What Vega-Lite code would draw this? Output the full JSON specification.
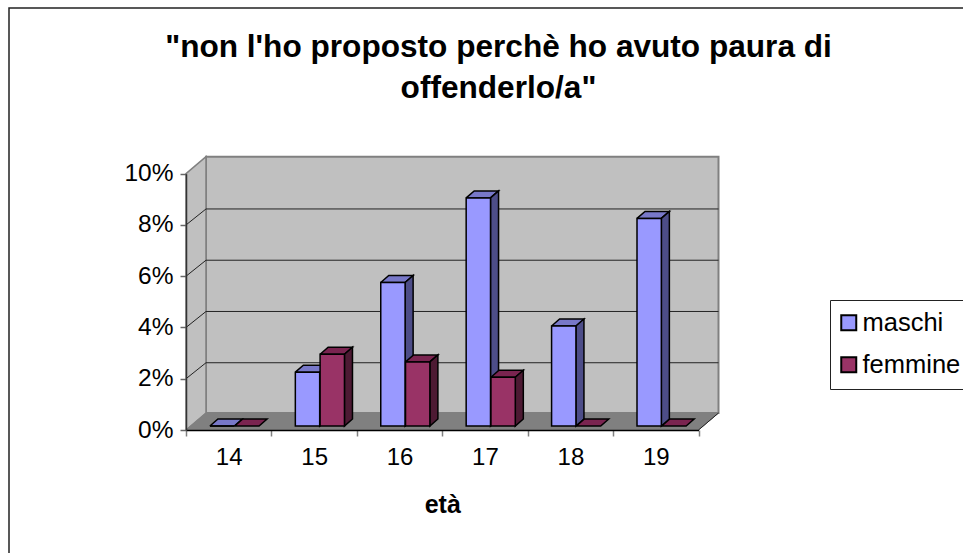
{
"$schema":"https://vega.github.io/schema/vega-lite/v6.json",
"width":955,"height":546,
"autosize":"none",
"padding":{"left":9,"top":8,"right":0,"bottom":0},
"background":"white",
"config":{"font":"Liberation Sans","view":{"stroke":"#222222","strokeWidth":1.5,"fill":"white"}},
"title":{"text":["\"non l'ho proposto perchè ho avuto paura di","offenderlo/a\""],"anchor":"middle","dx":12,"offset":-97,"fontSize":31.6,"fontWeight":"bold","lineHeight":41,"color":"black"},
"datasets":{
"valori":[
{"eta":14,"sesso":"maschi","valore":0},{"eta":14,"sesso":"femmine","valore":0},
{"eta":15,"sesso":"maschi","valore":2.1},{"eta":15,"sesso":"femmine","valore":2.8},
{"eta":16,"sesso":"maschi","valore":5.6},{"eta":16,"sesso":"femmine","valore":2.5},
{"eta":17,"sesso":"maschi","valore":8.9},{"eta":17,"sesso":"femmine","valore":1.9},
{"eta":18,"sesso":"maschi","valore":3.9},{"eta":18,"sesso":"femmine","valore":0},
{"eta":19,"sesso":"maschi","valore":8.1},{"eta":19,"sesso":"femmine","valore":0}],
"griglia":[{"v":0},{"v":2},{"v":4},{"v":6},{"v":8},{"v":10}]
},
"data":{"name":"valori"},
"transform":[
{"calculate":"datum.eta+(datum.sesso=='maschi'?-0.22:0.07)","as":"xl"},
{"calculate":"datum.xl+0.285","as":"xr"},
{"calculate":"0.156","as":"yb"},
{"calculate":"datum.valore+0.156","as":"yt"}
],
"layer":[
{"data":{"values":[{}]},"transform":[],"mark":{"type":"rect","fill":"#c0c0c0","stroke":"#808080","strokeWidth":2,"xOffset":20,"x2Offset":20,"yOffset":-17,"y2Offset":-17},
 "encoding":{"x":{"datum":13.5,"type":"quantitative","scale":{"domain":[13.5,19.5],"range":[177,689.5],"nice":false,"zero":false},
   "axis":{"values":[13.5,14,14.5,15,15.5,16,16.5,17,17.5,18,18.5,19,19.5],"offset":-124,"zindex":2,"grid":false,"domainColor":"black","domainWidth":1.5,"tickColor":"#808080","tickWidth":1.5,"tickSize":6,"tickOpacity":{"condition":{"test":"datum.value%1==0.5","value":1},"value":0},"labelExpr":"datum.value%1==0?format(datum.value,'d'):''","labelFontSize":24,"labelColor":"black","labelPadding":9,"labelOverlap":false,"labelFlush":false,"title":"età","titleFontSize":25,"titleFontWeight":"bold","titleColor":"black","titlePadding":23}},"x2":{"datum":19.5},
 "y":{"datum":0,"type":"quantitative","scale":{"domain":[0,10],"range":[422,165.7],"nice":false,"zero":false},
   "axis":{"values":[0,2,4,6,8,10],"offset":-177,"zindex":2,"grid":false,"domainColor":"#333333","domainWidth":1.5,"tickColor":"#666666","tickWidth":1.5,"tickSize":6,"labelExpr":"datum.value+'%'","labelFontSize":24.5,"labelColor":"black","labelPadding":7,"title":null}},"y2":{"datum":10}}},
{"data":{"values":[{"i":0,"x":13.5,"y":0,"d":0},{"i":1,"x":13.5,"y":0,"d":1},{"i":2,"x":13.5,"y":10,"d":1},{"i":3,"x":13.5,"y":10,"d":0},{"i":4,"x":13.5,"y":0,"d":0}]},
 "transform":[{"calculate":"datum.x+datum.d*0.234","as":"px"},{"calculate":"datum.y+datum.d*0.663","as":"py"}],
 "mark":{"type":"line","fill":"#c0c0c0","stroke":"#808080","strokeWidth":1.5},
 "encoding":{"x":{"field":"px","type":"quantitative"},"y":{"field":"py","type":"quantitative"},"order":{"field":"i"}}},
{"data":{"name":"griglia"},"transform":[{"filter":"datum.v>0 && datum.v<10"}],
 "mark":{"type":"rule","stroke":"#222222","strokeWidth":1,"xOffset":20,"x2Offset":20,"yOffset":-16,"y2Offset":-16},
 "encoding":{"x":{"datum":13.5,"type":"quantitative"},"x2":{"datum":19.5},"y":{"field":"v","type":"quantitative"}}},
{"data":{"name":"griglia"},"transform":[{"filter":"datum.v>0 && datum.v<10"}],
 "mark":{"type":"rule","stroke":"#222222","strokeWidth":1,"x2Offset":20,"y2Offset":-16},
 "encoding":{"x":{"datum":13.5,"type":"quantitative"},"x2":{"datum":13.5},"y":{"field":"v","type":"quantitative"},"y2":{"field":"v"}}},
{"data":{"values":[{"i":0,"x":13.5,"d":0},{"i":1,"x":13.5,"d":1},{"i":2,"x":19.5,"d":1},{"i":3,"x":19.5,"d":0},{"i":4,"x":13.5,"d":0}]},
 "transform":[{"calculate":"datum.x+datum.d*0.234","as":"px"},{"calculate":"datum.d*0.663","as":"py"}],
 "mark":{"type":"line","fill":"#808080","stroke":"#808080","strokeWidth":1},
 "encoding":{"x":{"field":"px","type":"quantitative"},"y":{"field":"py","type":"quantitative"},"order":{"field":"i"}}},
{"data":{"values":[{}]},"transform":[],"mark":{"type":"rule","stroke":"#222222","strokeWidth":1,"x2Offset":20,"y2Offset":-17},
 "encoding":{"x":{"datum":19.5,"type":"quantitative"},"x2":{"datum":19.5},"y":{"datum":0,"type":"quantitative"},"y2":{"datum":0}}},

{"transform":[{"filter":"datum.sesso=='maschi'"},
 {"calculate":"[datum.xl,datum.xl+0.094,datum.xr+0.094,datum.xr,datum.xl]","as":"px"},
 {"calculate":"[datum.yt,datum.yt+0.273,datum.yt+0.273,datum.yt,datum.yt]","as":"py"},
 {"calculate":"[0,1,2,3,4]","as":"i"},{"flatten":["px","py","i"]}],
 "mark":{"type":"line","fill":"#7878c8","stroke":"black","strokeWidth":1.5},
 "encoding":{"x":{"field":"px","type":"quantitative"},"y":{"field":"py","type":"quantitative"},"detail":{"field":"eta"},"order":{"field":"i"}}},
{"transform":[{"filter":"datum.sesso=='maschi' && datum.valore>0"},
 {"calculate":"[datum.xr,datum.xr+0.094,datum.xr+0.094,datum.xr,datum.xr]","as":"px"},
 {"calculate":"[datum.yt,datum.yt+0.273,datum.yb+0.273,datum.yb,datum.yt]","as":"py"},
 {"calculate":"[0,1,2,3,4]","as":"i"},{"flatten":["px","py","i"]}],
 "mark":{"type":"line","fill":"#4d4d88","stroke":"black","strokeWidth":1.5},
 "encoding":{"x":{"field":"px","type":"quantitative"},"y":{"field":"py","type":"quantitative"},"detail":{"field":"eta"},"order":{"field":"i"}}},
{"transform":[{"filter":"datum.sesso=='maschi'"}],
 "mark":{"type":"rect","stroke":"black","strokeWidth":1.5},
 "encoding":{"x":{"field":"xl","type":"quantitative"},"x2":{"field":"xr"},"y":{"field":"yb","type":"quantitative"},"y2":{"field":"yt"},
 "color":{"field":"sesso","type":"nominal","scale":{"domain":["maschi","femmine"],"range":["#9999ff","#993366"]},
  "legend":{"title":null,"orient":"none","legendX":821,"legendY":292,"strokeColor":"#222222","fillColor":"white","padding":10,"labelFontSize":25.5,"labelColor":"black","symbolType":"square","symbolSize":225,"symbolStrokeColor":"black","symbolStrokeWidth":2,"rowPadding":15,"labelOffset":1,"labelLimit":200,"symbolOffset":-4}}}},

{"transform":[{"filter":"datum.sesso=='femmine'"},
 {"calculate":"[datum.xl,datum.xl+0.094,datum.xr+0.094,datum.xr,datum.xl]","as":"px"},
 {"calculate":"[datum.yt,datum.yt+0.273,datum.yt+0.273,datum.yt,datum.yt]","as":"py"},
 {"calculate":"[0,1,2,3,4]","as":"i"},{"flatten":["px","py","i"]}],
 "mark":{"type":"line","fill":"#7a2450","stroke":"black","strokeWidth":1.5},
 "encoding":{"x":{"field":"px","type":"quantitative"},"y":{"field":"py","type":"quantitative"},"detail":{"field":"eta"},"order":{"field":"i"}}},
{"transform":[{"filter":"datum.sesso=='femmine' && datum.valore>0"},
 {"calculate":"[datum.xr,datum.xr+0.094,datum.xr+0.094,datum.xr,datum.xr]","as":"px"},
 {"calculate":"[datum.yt,datum.yt+0.273,datum.yb+0.273,datum.yb,datum.yt]","as":"py"},
 {"calculate":"[0,1,2,3,4]","as":"i"},{"flatten":["px","py","i"]}],
 "mark":{"type":"line","fill":"#4d1a33","stroke":"black","strokeWidth":1.5},
 "encoding":{"x":{"field":"px","type":"quantitative"},"y":{"field":"py","type":"quantitative"},"detail":{"field":"eta"},"order":{"field":"i"}}},
{"transform":[{"filter":"datum.sesso=='femmine' && datum.valore>0"}],
 "mark":{"type":"rect","stroke":"black","strokeWidth":1.5},
 "encoding":{"x":{"field":"xl","type":"quantitative"},"x2":{"field":"xr"},"y":{"field":"yb","type":"quantitative"},"y2":{"field":"yt"},
 "color":{"field":"sesso","type":"nominal"}}}
]
}
